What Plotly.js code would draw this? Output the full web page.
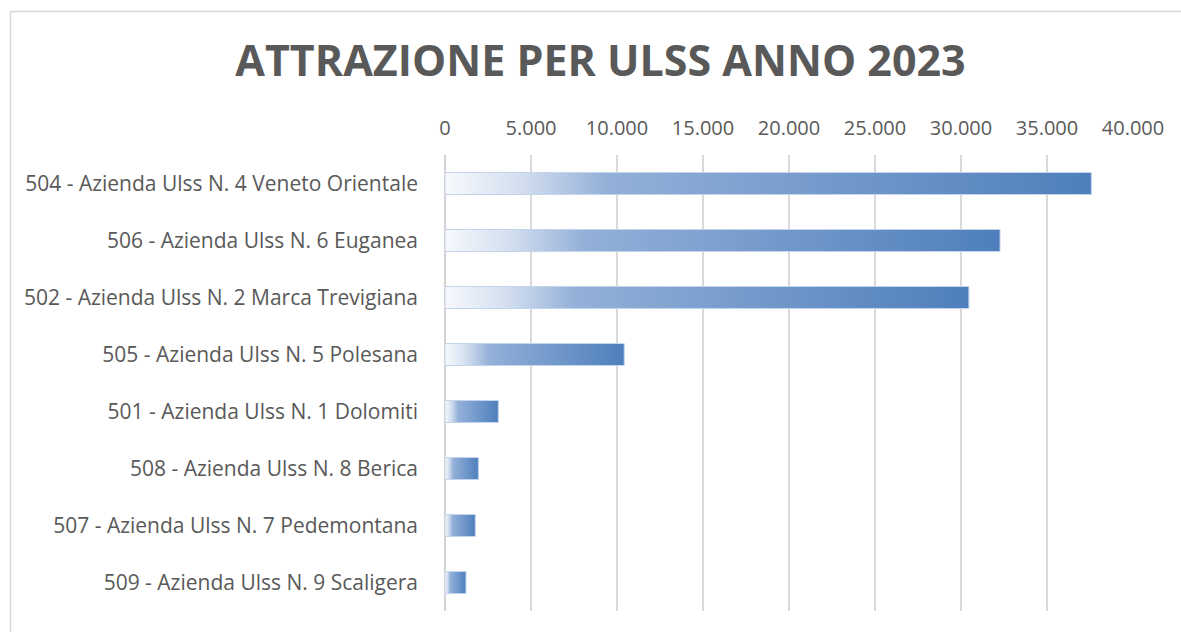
<!DOCTYPE html>
<html>
<head>
<meta charset="utf-8">
<script src="https://cdn.plot.ly/plotly-3.0.1.min.js"></script>
<style>
html,body{margin:0;padding:0;background:#fff;}
#chart{width:1181px;height:632px;}
</style>
</head>
<body>
<div id="chart"></div>
<script>
const categories = [
  "504 - Azienda Ulss N. 4 Veneto Orientale",
  "506 - Azienda Ulss N. 6 Euganea",
  "502 - Azienda Ulss N. 2 Marca Trevigiana",
  "505 - Azienda Ulss N. 5 Polesana",
  "501 - Azienda Ulss N. 1 Dolomiti",
  "508 - Azienda Ulss N. 8 Berica",
  "507 - Azienda Ulss N. 7 Pedemontana",
  "509 - Azienda Ulss N. 9 Scaligera"
];
const values = [37580, 32270, 30460, 10420, 3100, 1940, 1760, 1220];
const tickValues = [0, 5000, 10000, 15000, 20000, 25000, 30000, 35000, 40000];
const titleText = "ATTRAZIONE PER ULSS ANNO 2023";

const L = 445, R = 48, T = 155, B = 21;
const W = 1181, H = 632;
const pw = W - L - R, ph = H - T - B;
function px2x(px){ return (px - L) / pw; }
function py2y(py){ return (H - B - py) / ph; }

const trace = {
  type: 'bar',
  orientation: 'h',
  y: categories,
  x: values,
  marker: { color: '#6f97cb', line: { color: 'rgba(195,212,236,1)', width: 1 } },
  hoverinfo: 'x+y'
};

const layout = {
  width: W, height: H,
  margin: { l: L, r: R, t: T, b: B, pad: 0 },
  paper_bgcolor: '#ffffff',
  plot_bgcolor: '#ffffff',
  separators: ',.',
  bargap: 0.614,
  showlegend: false,
  font: { family: 'Open Sans, sans-serif', color: '#595959', size: 20 },
  title: {
    text: '<b>' + titleText + '</b>',
    font: { family: 'Open Sans, sans-serif', size: 43, color: '#595959' },
    x: 600.5 / W,
    xanchor: 'center',
    xref: 'container',
    y: 1 - 61 / H,
    yanchor: 'middle',
    yref: 'container'
  },
  xaxis: {
    side: 'top',
    range: [0, 40000],
    tickvals: tickValues,
    tickformat: ',d',
    showgrid: true,
    gridcolor: '#d9d9d9',
    gridwidth: 2,
    zeroline: false,
    showline: false,
    ticks: '',
    ticklabelstandoff: 15,
    tickfont: { size: 20, color: '#595959', family: 'Open Sans, sans-serif' },
    fixedrange: true
  },
  yaxis: {
    autorange: false,
    range: [7.5, -0.5],
    showgrid: false,
    zeroline: false,
    showline: false,
    ticks: '',
    ticklabelstandoff: 26,
    tickfont: { size: 21, color: '#595959', family: 'Open Sans, sans-serif' },
    fixedrange: true
  },
  shapes: [
    { type: 'line', xref: 'paper', yref: 'paper', x0: 0, x1: 0, y0: 0, y1: 1,
      line: { color: '#d4d4d4', width: 2 }, layer: 'below' },
    { type: 'rect', xref: 'paper', yref: 'paper',
      x0: px2x(10.5), x1: px2x(1190), y0: py2y(640), y1: py2y(11.5),
      line: { color: '#d9d9d9', width: 1.5 }, fillcolor: 'rgba(0,0,0,0)', layer: 'below' }
  ]
};

Plotly.newPlot('chart', [trace], layout, { displayModeBar: false, staticPlot: true }).then(function(gd){
  const svgNS = 'http://www.w3.org/2000/svg';
  const svg = gd.querySelector('svg.main-svg');
  let defs = svg.querySelector('defs');
  if (!defs) { defs = document.createElementNS(svgNS, 'defs'); svg.insertBefore(defs, svg.firstChild); }
  const grad = document.createElementNS(svgNS, 'linearGradient');
  grad.setAttribute('id', 'barGrad');
  grad.setAttribute('x1', '0'); grad.setAttribute('y1', '0');
  grad.setAttribute('x2', '1'); grad.setAttribute('y2', '0');
  [['0', '#f7f9fd'], ['0.12', '#d2deef'], ['0.25', '#93b0d8'], ['1', '#4e7fbc']].forEach(function(s){
    const st = document.createElementNS(svgNS, 'stop');
    st.setAttribute('offset', s[0]);
    st.setAttribute('stop-color', s[1]);
    grad.appendChild(st);
  });
  defs.appendChild(grad);
  gd.querySelectorAll('.barlayer .point path').forEach(function(p){
    p.style.fill = 'url(#barGrad)';
  });
});
</script>
</body>
</html>
